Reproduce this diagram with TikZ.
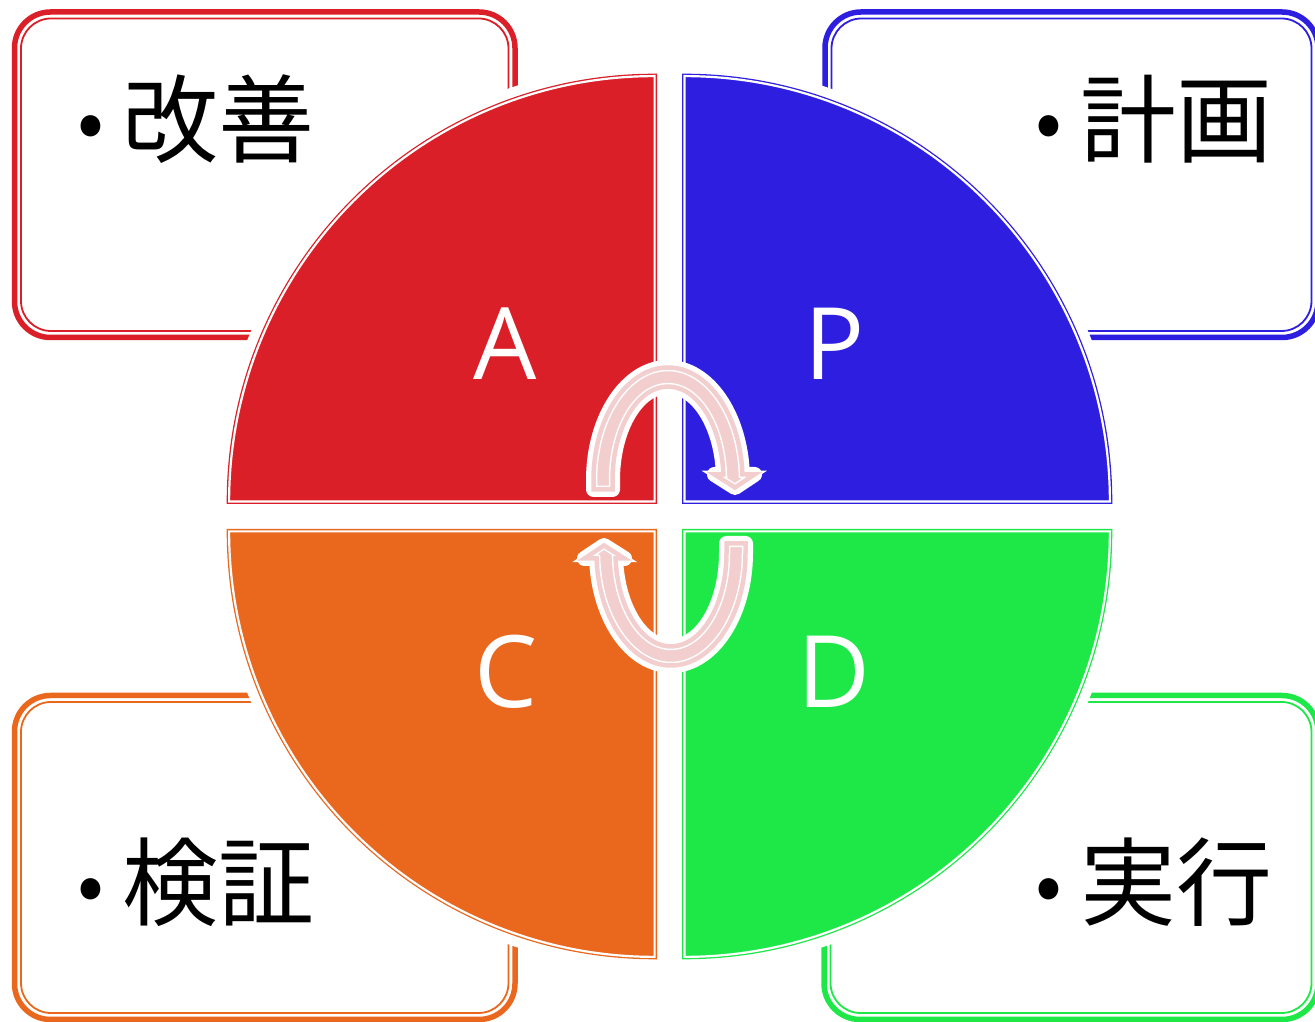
\documentclass[tikz,border=0pt]{standalone}
\usepackage{fontspec}
\newfontfamily\cjk{Noto Sans CJK JP}
\newfontfamily\letterfont{Open Sans}

\definecolor{actred}{RGB}{218,31,40}
\definecolor{planblue}{RGB}{46,30,224}
\definecolor{dogreen}{RGB}{30,232,72}
\definecolor{checkorange}{RGB}{234,103,30}
\definecolor{turnpink}{RGB}{242,206,206}

% one curved arrow, around the hub
\newcommand\turnpath{(-76,27) -- (-76,36.5) arc[start angle=180, end angle=2.8, x radius=74.5, y radius=112.5] -- (85,42) -- (65.5,29) -- (45,42) -- (53.9,42) arc[start angle=3.4, end angle=180, x radius=55.5, y radius=93.5] -- (-57,27) -- cycle}
% one quarter disc, top left
\newcommand\quadpath{(-14.9,14.9) -- ++(-425.5,0) arc[start angle=180, end angle=90, radius=425.5] -- cycle}
% bullet in front of a card text
\newcommand\carddot{\raisebox{6pt}{\fontsize{79}{90}\selectfont •}\hspace{18.8pt}}

\begin{document}
\begin{tikzpicture}[x=1pt, y=1pt,
	cardouter/.style = {draw=#1, line width=5.5pt, rounded corners=36pt},
	cardinner/.style = {draw=#1, line width=1.8pt, rounded corners=30pt},
	quadhalo/.style = {draw=white, line width=25pt, line join=round},
	quadrant/.style = {fill=#1, draw=#1, line width=1.3pt, double=white, double distance=2.2pt},
	quadletter/.style = {text=white, inner sep=0pt, font=\letterfont\fontsize{100}{110}\selectfont},
	cardtext/.style = {inner sep=0pt, anchor=base west, font=\cjk\fontsize{96}{110}\selectfont},
	turnhalo/.style = {draw=white, line width=15pt, line join=round},
	turnarrow/.style = {fill=turnpink, draw=white, line width=1.5pt, double=turnpink, double distance=4.5pt}]

	\useasboundingbox (0,0) rectangle (1315,1022);
	\coordinate (hub) at (669.5,505.5);

	% the four cards
	\foreach \boxc/\xa/\ya/\xb/\yb in {actred/14.5/1010/515/684.5, planblue/825/1010/1318/684.5, checkorange/14.5/326.5/515/2.5, dogreen/824/326.5/1318/2.5} {
		\draw[cardouter=\boxc] (\xa,\ya) rectangle (\xb,\yb);
		\draw[cardinner=\boxc] ({\xa+6.5},{\ya-6.5}) rectangle ({\xb-6.5},{\yb+6.5});
	}

	% the four quarters
	\foreach \turn/\fillc in {0/actred, -90/planblue, -180/dogreen, -270/checkorange} {
		\begin{scope}[shift={(hub)}, rotate=\turn]
			\draw[quadhalo] \quadpath;
			\filldraw[quadrant=\fillc] \quadpath;
		\end{scope}
	}

	\node (act)[quadletter] at (505,678.5) {A};
	\node (plan)[quadletter] at (835,678.5) {P};
	\node (check)[quadletter] at (506,350) {C};
	\node (do)[quadletter] at (834,350) {D};

	\node (kaizen)[cardtext] at (76.8,866.7) {\carddot 改善};
	\node (keikaku)[cardtext] at (1034.8,866.7) {\carddot 計画};
	\node (kensho)[cardtext] at (76.8,103.7) {\carddot 検証};
	\node (jikko)[cardtext] at (1034.8,103.7) {\carddot 実行};

	% the two arrows
	\begin{scope}[shift={(hub)}]
		\draw[turnhalo] \turnpath;
		\filldraw[turnarrow] \turnpath;
	\end{scope}
	\begin{scope}[shift={(hub)}, rotate=180]
		\draw[turnhalo] \turnpath;
		\filldraw[turnarrow] \turnpath;
	\end{scope}
\end{tikzpicture}
\end{document}
